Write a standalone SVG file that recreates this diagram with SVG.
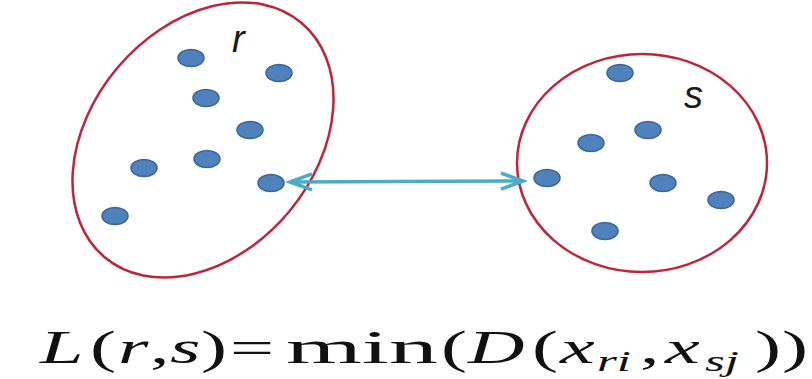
<svg xmlns="http://www.w3.org/2000/svg" width="812" height="379" viewBox="0 0 812 379">
<defs>
<style>
.cluster{fill:none;stroke:#c0233a;stroke-width:2.5}
.pt{fill:#4f81bd;stroke:#3a6496;stroke-width:1.5}
.lbl{font-family:"Liberation Sans",Arial,sans-serif;font-style:italic;font-size:38px;fill:#1a1a1a}
.f{font-family:"Liberation Serif","Times New Roman",serif;font-size:46px;fill:#111}
.i{font-style:italic}
.sub{font-size:30px;font-style:italic}
.conn{fill:none;stroke:#4bacc6;stroke-width:3.5}
</style>
<marker id="head" markerUnits="userSpaceOnUse" viewBox="-26 -12 30 24" refX="0" refY="0" markerWidth="30" markerHeight="24" orient="auto-start-reverse">
<path d="M-22,-8 L0,0 L-22,8" fill="none" stroke="#4bacc6" stroke-width="3.5"/>
</marker>
</defs>
<rect width="812" height="379" fill="#ffffff"/>
<g id="cluster-r">
<ellipse class="cluster" cx="203" cy="140" rx="153" ry="112" transform="rotate(-50 203 140)"/>
<text class="lbl" x="232" y="52">r</text>
<ellipse class="pt" cx="191" cy="58" rx="13" ry="8.5"/>
<ellipse class="pt" cx="279" cy="73" rx="13" ry="8.5"/>
<ellipse class="pt" cx="206" cy="98" rx="13" ry="8.5"/>
<ellipse class="pt" cx="250" cy="130" rx="13" ry="8.5"/>
<ellipse class="pt" cx="207" cy="159" rx="13" ry="8.5"/>
<ellipse class="pt" cx="144" cy="168" rx="13" ry="8.5"/>
<ellipse class="pt" cx="271" cy="183" rx="13" ry="8.5"/>
<ellipse class="pt" cx="115" cy="216" rx="13" ry="8.5"/>
</g>
<g id="cluster-s">
<ellipse class="cluster" cx="642" cy="163" rx="125" ry="109"/>
<text class="lbl" x="684" y="108">s</text>
<ellipse class="pt" cx="620" cy="73" rx="13" ry="8.5"/>
<ellipse class="pt" cx="648" cy="130" rx="13" ry="8.5"/>
<ellipse class="pt" cx="591" cy="143" rx="13" ry="8.5"/>
<ellipse class="pt" cx="547" cy="178" rx="13" ry="8.5"/>
<ellipse class="pt" cx="663" cy="183" rx="13" ry="8.5"/>
<ellipse class="pt" cx="721" cy="200" rx="13" ry="8.5"/>
<ellipse class="pt" cx="605" cy="231" rx="13" ry="8.5"/>
</g>
<g id="connectors">
<path class="conn" d="M290,182 L523,181" marker-start="url(#head)" marker-end="url(#head)"/>
</g>
<g id="formula">
<text class="f" transform="scale(1.7 1)" y="363"><tspan class="i" x="23.53">L</tspan><tspan x="52.94">(</tspan><tspan class="i" x="69.41">r</tspan><tspan x="88.24">,</tspan><tspan class="i" x="100">s</tspan><tspan x="118.24">)</tspan><tspan x="135.29">=</tspan></text>
<text class="f" transform="translate(286 363) scale(2.12 1)">min</text>
<text class="f" transform="scale(1.7 1)" y="363"><tspan x="259.41">(</tspan><tspan class="i" x="275.29">D</tspan><tspan x="312.94">(</tspan><tspan class="i" x="329.41">x</tspan><tspan class="sub" x="351.18" y="371">ri</tspan><tspan x="376.47" y="363">,</tspan><tspan class="i" x="391.18">x</tspan><tspan class="sub" x="414.71" y="371">sj</tspan><tspan x="444.12" y="363">)</tspan><tspan x="460">)</tspan></text>
</g>
</svg>
